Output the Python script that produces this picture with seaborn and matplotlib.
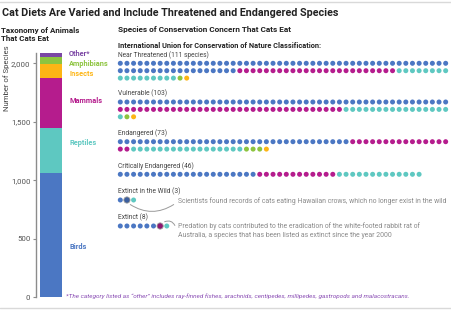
import numpy as np
import pandas as pd
import seaborn as sns
import matplotlib.pyplot as plt
from matplotlib.patches import FancyArrowPatch
from matplotlib.lines import Line2D

sns.set_style('white')
plt.rcParams['font.family'] = ['Roboto', 'DejaVu Sans']

# --- data -----------------------------------------------------------------
taxa = ['Birds', 'Reptiles', 'Mammals', 'Insects', 'Amphibians', 'Other*']
taxa_counts = [1060, 384, 433, 117, 63, 34]
taxa_colors = ['#4b77c3', '#5ec8c1', '#b51c8d', '#fdb515', '#8dc43f', '#7b46a4']

dot_taxa = ['Birds', 'Mammals', 'Reptiles', 'Amphibians', 'Insects']
iucn_labels = ['Near Threatened (111 species)', 'Vulnerable (103)', 'Endangered (73)',
               'Critically Endangered (46)', 'Extinct in the Wild (3)', 'Extinct (8)']
near_threatened = [68, 24, 17, 1, 1]
vulnerable = [50, 34, 17, 1, 1]
endangered = [35, 17, 17, 3, 1]
critically_endangered = [21, 12, 13, 0, 0]
extinct_wild = [2, 0, 1, 0, 0]
extinct = [6, 1, 1, 0, 0]
iucn_counts = [near_threatened, vulnerable, endangered, critically_endangered, extinct_wild, extinct]
highlight = {4: 1, 5: 6}   # class index -> highlighted dot

notes = ['Scientists found records of cats eating Hawaiian crows, which no longer exist in the wild',
         'Predation by cats contributed to the eradication of the white-footed rabbit rat of\n'
         'Australia, a species that has been listed as extinct since the year 2000']

palette = dict(zip(taxa, taxa_colors))

# --- layout (pixels) ------------------------------------------------------
W, H = 451, 312
fig = plt.figure(figsize=(W / 100, H / 100), dpi=100)
renderer = fig.canvas.get_renderer()

def px(x0, y0, x1, y1):
    return [x0 / W, 1 - y1 / H, (x1 - x0) / W, (y1 - y0) / H]

def fit(t, width):
    # scale font so the text spans about `width` pixels
    w = t.get_window_extent(renderer).width
    t.set_fontsize(t.get_fontsize() * width / w)
    return t.get_fontsize()

def fit_size(s, width, **kw):
    probe = fig.text(0, 0, s, fontsize=10, **kw)
    fs = fit(probe, width)
    probe.remove()
    return fs

# left stacked bar
axL = fig.add_axes(px(36, 53, 66, 297.3))
tax = pd.DataFrame({'taxon': taxa, 'count': taxa_counts})
tax['top'] = tax['count'].cumsum()
tax['grp'] = 'all'
sns.barplot(data=tax, x='grp', y='top', hue='taxon', hue_order=taxa[::-1],
            palette=palette, dodge=False, width=0.733, linewidth=0, saturation=1,
            legend=False, ax=axL)
axL.set_xlim(-0.5, 0.5)
axL.set_ylim(0, 2088)
axL.set_yticks([0, 500, 1000, 1500, 2000])
axL.set_yticklabels(['0', '500', '1,000', '1,500', '2,000'])
axL.set_xticks([])
axL.set_xlabel('')
axL.set_ylabel('')
for s in ['top', 'right', 'bottom']:
    axL.spines[s].set_visible(False)
axL.spines['left'].set_color('#8c8c8c')
axL.spines['left'].set_linewidth(1.0)
axL.tick_params(axis='y', length=2.5, width=0.8, color='#8c8c8c', pad=1.5,
                labelsize=fit_size('2,000', 19), labelcolor='#555555', left=True)

label_vals = [430, 1320, 1680, 1905, 1992, 2078]
cat_fs = fit_size('Amphibians', 40, fontweight='bold')
for t, c, v in zip(taxa, taxa_colors, label_vals):
    axL.text(0.5 + 0.1, v, t, color=c, fontsize=cat_fs, fontweight='bold',
             va='center', ha='left', clip_on=False)

# overlay axes in pixel coords for dots and text
ax = fig.add_axes([0, 0, 1, 1])
ax.set_xlim(0, W)
ax.set_ylim(H, 0)
ax.axis('off')

row_first = [63.3, 102.0, 141.7, 174.3, 200.0, 226.0]
per_row, dx, dy, x0 = 50, 6.64, 7.4, 120.3
rows = []
for k, counts in enumerate(iucn_counts):
    i = 0
    for t, n in zip(dot_taxa, counts):
        for _ in range(n):
            rows.append({'cls': k, 'taxon': t, 'i': i,
                         'x': x0 + (i % per_row) * dx,
                         'y': row_first[k] + (i // per_row) * dy})
            i += 1
dots = pd.DataFrame(rows)
dots['hl'] = [highlight.get(c) == i for c, i in zip(dots['cls'], dots['i'])]

sns.scatterplot(data=dots[~dots['hl']], x='x', y='y', hue='taxon', palette=palette,
                s=13, linewidth=0, legend=False, ax=ax)
dark = {'Birds': '#3b5f9e', 'Mammals': '#8e1670'}
hl = dots[dots['hl']]
sns.scatterplot(data=hl, x='x', y='y', hue='taxon', palette=dark,
                s=20, linewidth=0.6, edgecolor='#9a9a9a', legend=False, ax=ax)

cls_fs = fit_size(iucn_labels[0], 91)
for k, lab in enumerate(iucn_labels):
    ax.text(118, row_first[k] - 8.5, lab, fontsize=cls_fs, color='#444444', va='center')

note_fs = fit_size(notes[0], 270)
ax.text(178, 201.5, notes[0], fontsize=note_fs, color='#8a8a8a', va='center')
ax.text(178, 222.5, notes[1], fontsize=note_fs, color='#8a8a8a', va='top',
        linespacing=1.3)

hx = hl.set_index('cls')
ax.add_patch(FancyArrowPatch((hx.loc[4, 'x'] + 1, hx.loc[4, 'y'] + 3), (176, 203),
                             connectionstyle='arc3,rad=0.35', arrowstyle='-',
                             color='#9a9a9a', lw=0.7))
ax.add_patch(FancyArrowPatch((hx.loc[5, 'x'] + 2, hx.loc[5, 'y'] - 3), (176, 228),
                             connectionstyle='arc3,rad=-0.6', arrowstyle='-',
                             color='#9a9a9a', lw=0.7))

# titles
title = 'Cat Diets Are Varied and Include Threatened and Endangered Species'
fig.text(2 / W, 1 - 13 / H, title, fontsize=fit_size(title, 336, fontweight='bold'),
         fontweight='bold', color='#222222', va='center')
fig.text(1 / W, 1 - 34.5 / H, 'Taxonomy of Animals\nThat Cats Eat',
         fontsize=fit_size('Taxonomy of Animals', 79, fontweight='bold'),
         fontweight='bold', color='#222222', va='center', linespacing=1.2)
s = 'Species of Conservation Concern That Cats Eat'
fig.text(118 / W, 1 - 29.5 / H, s, fontsize=fit_size(s, 175, fontweight='bold'),
         fontweight='bold', color='#222222', va='center')
s = 'International Union for Conservation of Nature Classification:'
fig.text(118 / W, 1 - 45.5 / H, s, fontsize=fit_size(s, 205, fontweight='bold'),
         fontweight='bold', color='#222222', va='center')
s = 'Number of Species'
fig.text(7 / W, 1 - 78 / H, s, fontsize=fit_size(s, 66), color='#444444',
         rotation=90, ha='center', va='center')
s = ('*The category listed as \u201cother\u201d includes ray-finned fishes, arachnids, '
     'centipedes, millipedes, gastropods and malacostracans.')
fig.text(66 / W, 1 - 296 / H, s, fontsize=fit_size(s, 344, style='italic'),
         style='italic', color='#8b4fb5', va='center')

fig.add_artist(Line2D([0, 1], [1 - 2 / H, 1 - 2 / H], color='#d9d9d9', lw=1))
fig.add_artist(Line2D([0, 1], [1 - 308 / H, 1 - 308 / H], color='#d9d9d9', lw=1))

fig.savefig('out.png', dpi=100)
